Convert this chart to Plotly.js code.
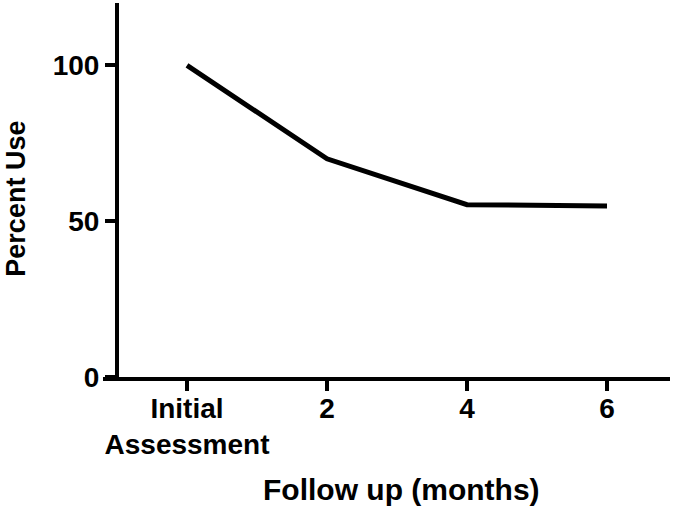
<!DOCTYPE html>
<html>
<head>
<meta charset="utf-8">
<script src="https://cdn.plot.ly/plotly-3.0.1.min.js"></script>
<style>
  html, body { margin: 0; padding: 0; background: #fff; }
  #plot { width: 680px; height: 509px; }
</style>
</head>
<body>
<div id="plot"></div>
<script>
const followUp = ['Initial<br>Assessment', '2', '4', '6'];
const percentUse = [100, 70, 55.3, 54.9];
const yTicks = [0, 50, 100];

const font = { family: 'Liberation Sans, Arial, sans-serif', color: '#000', weight: 'bold' };

const trace = {
  x: [0, 1, 2, 3],
  y: percentUse,
  type: 'scatter',
  mode: 'lines',
  line: { color: '#000', width: 5 },
  hoverinfo: 'skip'
};

// axis titles placed as annotations so they sit where the original has them
const layout = {
  width: 680,
  height: 509,
  margin: { l: 103, r: 10, t: 3, b: 132 },
  paper_bgcolor: '#fff',
  plot_bgcolor: '#fff',
  showlegend: false,
  xaxis: {
    range: [-0.6, 3.45],
    tickvals: [0, 1, 2, 3],
    ticktext: followUp,
    ticks: 'outside',
    ticklen: 10,
    tickwidth: 4,
    tickcolor: '#000',
    ticklabelstandoff: -7,
    showline: true,
    linewidth: 4,
    linecolor: '#000',
    showgrid: false,
    zeroline: false,
    tickfont: { ...font, size: 28 },
    automargin: false
  },
  yaxis: {
    range: [0, 120],
    tickvals: yTicks,
    anchor: 'free',
    position: (117 - 103) / 567,
    ticks: 'outside',
    ticklen: 10,
    tickwidth: 4,
    tickcolor: '#000',
    showline: true,
    linewidth: 4,
    linecolor: '#000',
    showgrid: false,
    zeroline: false,
    tickfont: { ...font, size: 28 },
    automargin: false
  },
  annotations: [
    {
      text: 'Follow up (months)',
      xref: 'paper', yref: 'paper',
      x: 0.527, y: -0.3,
      xanchor: 'center', yanchor: 'middle',
      showarrow: false,
      font: { ...font, size: 30 }
    },
    {
      text: 'Percent Use',
      xref: 'paper', yref: 'paper',
      x: -0.154, y: 0.476,
      xanchor: 'center', yanchor: 'middle',
      textangle: -90,
      showarrow: false,
      font: { ...font, size: 27 }
    }
  ]
};

Plotly.newPlot('plot', [trace], layout, { staticPlot: true });
</script>
</body>
</html>
